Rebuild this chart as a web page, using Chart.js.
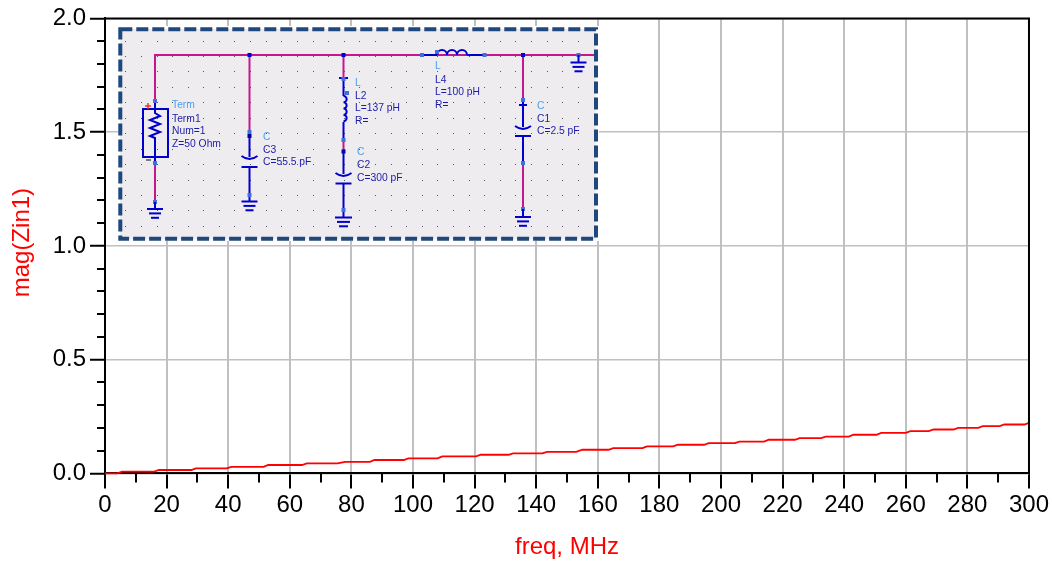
<!DOCTYPE html>
<html>
<head>
<meta charset="utf-8">
<style>
  html, body { margin: 0; padding: 0; background: #fff; }
  canvas { display: block; }
</style>
<script src="https://cdn.jsdelivr.net/npm/chart.js@4"></script>
</head>
<body>
<canvas id="myChart" width="1052" height="563"></canvas>
<script>
// staircase trace
const freq = [0, 4, 5.5, 16, 17.5, 28, 29.5, 39.5, 41, 51.5, 53, 64, 65.5, 75.5, 78, 86, 87.5, 97, 98.5,
    108, 109.5, 120.5, 122, 131, 132.5, 142, 143.5, 153, 155, 163.5, 165, 174.5, 176, 184.5, 186,
    194.5, 196, 204.5, 206, 214, 215.5, 224, 225.5, 232.5, 234, 241.5, 243, 250.5, 252, 260, 261.5,
    267.5, 269, 275.5, 277, 283.5, 285, 290.5, 292, 298.5, 300];
const zin = [0, 0, .0075, .0075, .015, .015, .022, .022, .029, .029, .037, .037, .044, .044, .051, .051, .059, .059, .066,
    .066, .075, .075, .082, .082, .088, .088, .095, .095, .104, .104, .111, .111, .119, .119, .126,
    .126, .133, .133, .14, .14, .148, .148, .155, .155, .162, .162, .17, .17, .178, .178, .186,
    .186, .193, .193, .2, .2, .208, .208, .215, .215, .2225];
const xMinor = [10, 30, 50, 70, 90, 110, 130, 150, 170, 190, 210, 230, 250, 270, 290];
const yMinor = [.1, .2, .3, .4, .6, .7, .8, .9, 1.1, 1.2, 1.3, 1.4, 1.6, 1.7, 1.8, 1.9];

const FONT = '"Liberation Sans", Arial, sans-serif';
const WIRE = '#c5168c';
const PART = '#0000cc';

// the schematic pasted over the plot, in canvas pixels
function drawSchematic(c) {
    const line = (color, pts, w) => {
        c.strokeStyle = color;
        c.lineWidth = w || 2;
        c.beginPath();
        pts.forEach((p, i) => i ? c.lineTo(p[0], p[1]) : c.moveTo(p[0], p[1]));
        c.stroke();
    };
    const pin = (x, y, color) => {
        c.fillStyle = color || '#3f6fe0';
        c.fillRect(x - 2, y - 2, 4, 4);
    };
    const ground = (x, y, hw) => {
        line(PART, [[x - hw, y], [x + hw, y]]);
        line(PART, [[x - hw + 2, y + 4.4], [x + hw - 2, y + 4.4]]);
        line(PART, [[x - hw + 4, y + 8.8], [x + hw - 4, y + 8.8]]);
    };
    const cap = (x, y, gap) => {
        c.strokeStyle = PART;
        c.lineWidth = 2;
        c.beginPath();
        c.moveTo(x - 8, y);
        c.quadraticCurveTo(x, y + 6, x + 8, y);
        c.stroke();
        line(PART, [[x - 8, y + gap], [x + 8, y + gap]]);
    };
    const coil = (x, y, n, h, sx) => {
        c.strokeStyle = PART;
        c.lineWidth = 2;
        c.beginPath();
        c.moveTo(x, y);
        for (let i = 0; i < n; i++) {
            if (sx) c.arc(x + (i + .5) * h, y, h / 2, Math.PI, 0);
            else c.arc(x, y + (i + .5) * h, h / 2, -Math.PI / 2, Math.PI / 2);
        }
        c.stroke();
    };

    // white rim, then the sheet
    c.fillStyle = '#fff';
    c.fillRect(118, 26, 481, 215);
    c.fillStyle = '#efecf0';
    c.fillRect(120, 29, 476, 210);
    c.fillStyle = '#55555f';
    for (let y = 40.5; y < 235; y += 15.45) {
        for (let x = 125.3; x < 592; x += 15.6) {
            c.fillRect(Math.round(x), Math.round(y), 1, 1);
        }
    }

    // wires
    line(WIRE, [[155, 101], [155, 55], [596, 55]]);
    line(WIRE, [[155, 163], [155, 202]]);
    line(WIRE, [[249.5, 55], [249.5, 132]]);
    line(WIRE, [[343.5, 55], [343.5, 79]]);
    line(WIRE, [[343.5, 140], [343.5, 151]]);
    line(WIRE, [[523, 55], [523, 100]]);
    line(WIRE, [[523, 163], [523, 209]]);

    // Term1
    c.strokeStyle = PART;
    c.lineWidth = 2;
    c.strokeRect(143, 109, 25, 48);
    line(PART, [[155, 101], [155, 113], [160, 116], [150, 120], [160, 124], [150, 128], [160, 132], [150, 136], [155, 138], [155, 163]]);
    pin(155, 101);
    pin(155, 163);
    pin(155, 202);
    line(PART, [[155, 202], [155, 209]]);
    ground(155, 209, 8);
    line('#ee3322', [[145, 106], [151, 106]], 1.5);
    line('#ee3322', [[148, 103], [148, 109]], 1.5);
    line('#555566', [[146, 160], [151, 160]], 1.5);

    // C3
    line(PART, [[249.5, 132], [249.5, 157]]);
    cap(249.5, 156, 11);
    line(PART, [[249.5, 167], [249.5, 201]]);
    pin(249.5, 55, '#0000cc');
    pin(249.5, 132);
    pin(249.5, 136, '#000099');
    pin(249.5, 195);
    ground(249.5, 201.5, 8);

    // L2 + C2
    line(PART, [[339, 78], [348, 78]]);
    line(PART, [[343.5, 78], [343.5, 96]]);
    coil(343.5, 96, 4, 6.3);
    line(PART, [[343.5, 122], [343.5, 140]]);
    pin(343.5, 55, '#0000cc');
    pin(343.5, 79);
    pin(347, 93);
    pin(343.5, 140);
    pin(343.5, 151.5, '#000099');
    line(PART, [[343.5, 151], [343.5, 174]]);
    cap(343.5, 173, 10.5);
    line(PART, [[343.5, 183], [343.5, 217]]);
    pin(343.5, 210);
    ground(343.5, 217.5, 8.5);

    // L4
    line(PART, [[422, 55], [437, 55]]);
    coil(437, 55, 3, 10, true);
    line(PART, [[467, 55], [484, 55]]);
    pin(422, 55);
    pin(437, 52);
    pin(484.5, 55);

    // C1
    line(PART, [[523, 100], [523, 127]]);
    line(PART, [[519, 105], [527, 105]]);
    cap(523, 126, 10);
    line(PART, [[523, 136], [523, 163]]);
    pin(523, 55, '#0000cc');
    pin(523, 100);
    pin(523, 163);
    pin(523, 209);
    line(PART, [[523, 209], [523, 217]]);
    ground(523, 217, 8);

    // grounded end of the top wire
    pin(578.5, 55);
    line(PART, [[578.5, 55], [578.5, 62]]);
    ground(578.5, 62.5, 8);

    // dashed frame on top
    c.strokeStyle = '#1f497d';
    c.lineWidth = 4;
    c.setLineDash([12, 4]);
    c.strokeRect(120.3, 29.3, 475.7, 209.4);
    c.setLineDash([]);

    // part labels
    const names = '#4a9ff0';
    const vals = '#1c1ca8';
    const label = (x, y, t, color) => {
        c.fillStyle = color || vals;
        c.fillText(t, x, y);
    };
    c.font = '10.3px ' + FONT;
    c.textAlign = 'left';
    c.textBaseline = 'alphabetic';
    label(172, 108, 'Term', names);
    label(172, 121.5, 'Term1');
    label(172, 133.5, 'Num=1');
    label(172, 147, 'Z=50 Ohm');
    label(263, 139.5, 'C', names);
    label(263, 152.5, 'C3');
    label(263, 165, 'C=55.5 pF');
    label(355, 86, 'L', names);
    label(355, 98.5, 'L2');
    label(355, 111, 'L=137 pH');
    label(355, 123.5, 'R=');
    label(357, 155, 'C', names);
    label(357, 167.5, 'C2');
    label(357, 180.5, 'C=300 pF');
    label(435, 69, 'L', names);
    label(435, 82.5, 'L4');
    label(435, 95, 'L=100 pH');
    label(435, 107.5, 'R=');
    label(537, 108.5, 'C', names);
    label(537, 121.5, 'C1');
    label(537, 134, 'C=2.5 pF');
}

const frame = {
    id: 'frame',
    afterDraw(chart) {
        const c = chart.ctx;
        const a = chart.chartArea;
        const x = chart.scales.x;
        const y = chart.scales.y;
        c.save();
        drawSchematic(c);

        // top and right of the box
        c.strokeStyle = '#000';
        c.lineWidth = 2;
        c.beginPath();
        c.moveTo(a.left, a.top);
        c.lineTo(a.right, a.top);
        c.lineTo(a.right, a.bottom);
        c.stroke();

        // short ticks, chart.js only has one tick length per axis
        c.beginPath();
        xMinor.forEach(v => {
            const px = Math.round(x.getPixelForValue(v));
            c.moveTo(px, a.bottom);
            c.lineTo(px, a.bottom + 9);
        });
        yMinor.forEach(v => {
            const py = Math.round(y.getPixelForValue(v));
            c.moveTo(a.left, py);
            c.lineTo(a.left - 8, py);
        });
        c.stroke();
        c.restore();
    }
};

Chart.defaults.font.family = FONT;
Chart.defaults.color = '#000';

const ctx = document.getElementById('myChart');
new Chart(ctx, {
    type: 'line',
    data: {
        datasets: [{
            label: 'mag(Zin1)',
            data: freq.map((f, i) => ({ x: f, y: zin[i] })),
            borderColor: '#ff0000',
            borderWidth: 1.8,
            pointRadius: 0,
            tension: 0,
            clip: false
        }]
    },
    plugins: [frame],
    options: {
        responsive: false,
        animation: false,
        layout: { padding: { top: 17.6, right: 23, bottom: 0, left: 0 } },
        plugins: { legend: { display: false }, tooltip: { enabled: false } },
        scales: {
            x: {
                type: 'linear',
                min: 0,
                max: 300,
                afterFit: s => { s.height = 89.6; },
                border: { color: '#000', width: 2 },
                grid: { color: '#c0c0c0', lineWidth: 2, tickColor: '#000', tickWidth: 2, tickLength: 15 },
                ticks: { stepSize: 20, autoSkip: false, maxRotation: 0, padding: 3, font: { size: 24 }, color: '#000' },
                title: { display: true, text: 'freq, MHz', color: '#ff0000', font: { size: 24 }, padding: { top: 0, bottom: 1.6 } }
            },
            y: {
                min: 0,
                max: 2,
                afterFit: s => { s.width = 105; },
                border: { color: '#000', width: 2 },
                grid: { color: '#c0c0c0', lineWidth: 1.5, tickColor: '#000', tickWidth: 2, tickLength: 15 },
                ticks: { stepSize: .5, padding: 4, font: { size: 24 }, color: '#000', callback: v => v.toFixed(1) },
                // leading space nudges the title up a little, same as the original
                title: { display: true, text: ' mag(Zin1)', color: '#ff0000', font: { size: 24 }, padding: { top: 8, bottom: 0 } }
            }
        }
    }
});
</script>
</body>
</html>
